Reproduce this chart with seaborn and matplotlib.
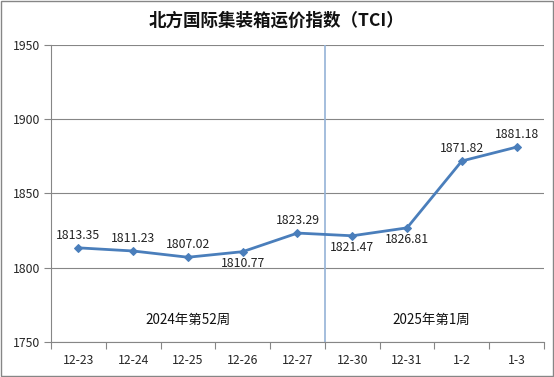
import matplotlib
matplotlib.use("Agg")
import matplotlib.pyplot as plt
import seaborn as sns
import pandas as pd
from matplotlib.ticker import FixedLocator

dates = ["12-23", "12-24", "12-25", "12-26", "12-27", "12-30", "12-31", "1-2", "1-3"]
values = [1813.35, 1811.23, 1807.02, 1810.77, 1823.29, 1821.47, 1826.81, 1871.82, 1881.18]
label_pos = ["above", "above", "above", "below", "above", "below", "below", "above", "above"]
week_labels = ["2024年第52周", "2025年第1周"]
yticks = [1750, 1800, 1850, 1900, 1950]
title = "北方国际集装箱运价指数（TCI）"

sns.set_theme(style="white")
plt.rcParams['font.family'] = ['Noto Sans CJK SC', 'DejaVu Sans']

df = pd.DataFrame({"x": range(len(dates)), "v": values})

fig = plt.figure(figsize=(5.54, 3.77), dpi=100)
fig.patch.set_facecolor("white")
ax = fig.add_axes([0.092, 0.093, 0.890, 0.788])

line_color = "#4A7EBB"
sns.lineplot(data=df, x="x", y="v", ax=ax, color=line_color, linewidth=2,
             marker="D", markersize=4.5, markeredgecolor=line_color, markerfacecolor=line_color)

for i, (v, pos) in enumerate(zip(values, label_pos)):
    dy = 9 if pos == "above" else -8.5
    ax.annotate(f"{v:.2f}", (i, v), xytext=(0, dy), textcoords="offset points",
                ha="center", va="center", fontsize=8.8, color="#222222")

ax.axvline(4.5, color="#95B3D7", linewidth=1.2, zorder=1)

ax.text(2.0, 1765, week_labels[0], ha="center", va="center", fontsize=9.7, color="#111111")
ax.text(6.45, 1765, week_labels[1], ha="center", va="center", fontsize=9.7, color="#111111")

ax.set_xlim(-0.5, len(dates) - 0.5)
ax.set_ylim(1750, 1950)
ax.set_yticks(yticks)
ax.set_yticklabels([str(t) for t in yticks], fontsize=8.8)
ax.set_xticks(range(len(dates)))
ax.set_xticklabels(dates, fontsize=8.8)
ax.xaxis.set_minor_locator(FixedLocator([i + 0.5 for i in range(-1, len(dates))]))
ax.tick_params(axis="x", which="major", length=0, pad=9)
ax.tick_params(axis="x", which="minor", length=5, width=0.8, color="#868686", direction="out", bottom=True)
ax.tick_params(axis="y", length=5, width=0.8, color="#868686", direction="out", left=True, pad=3)
ax.set_xlabel("")
ax.set_ylabel("")

ax.grid(axis="y", color="#868686", linewidth=0.8)
ax.set_axisbelow(True)
for s in ["top", "right"]:
    ax.spines[s].set_visible(False)
for s in ["left", "bottom"]:
    ax.spines[s].set_color("#868686")
    ax.spines[s].set_linewidth(0.8)

fig.suptitle(title, x=0.5, y=0.968, fontsize=12.6, fontweight="bold", color="#111111")

border = plt.Rectangle((0.002, 0.003), 0.996, 0.994, transform=fig.transFigure,
                       fill=False, edgecolor="#868686", linewidth=1)
fig.patches.append(border)

fig.savefig("out.png", dpi=100)
